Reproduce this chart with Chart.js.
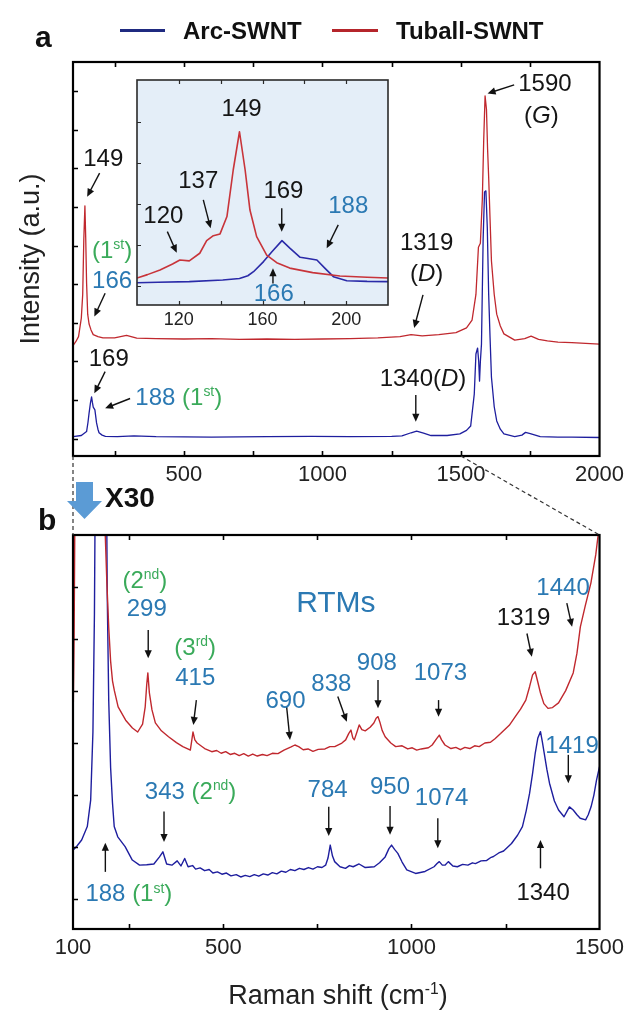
<!DOCTYPE html>
<html><head><meta charset="utf-8">
<script src="https://cdn.jsdelivr.net/npm/chart.js@4.4.1/dist/chart.umd.min.js"></script>
<style>
html,body{margin:0;padding:0;background:#fff;}
#wrap{position:relative;width:630px;height:1011px;overflow:hidden;font-family:"Liberation Sans",Arial,sans-serif;}
canvas{position:absolute;left:0;}
.t{position:absolute;white-space:nowrap;line-height:1;transform:translate(-50%,-50%);font-size:24px;color:#151515;}
.t.l{transform:translate(0,-50%);}
.k{color:#151515}.b{color:#2b79b3}.g{color:#3aaa5a}
sup{font-size:58%;vertical-align:0;position:relative;top:-0.62em;}
.lab{position:absolute;white-space:nowrap;line-height:1;}
</style></head>
<body><div id="wrap">
<canvas id="cA" width="630" height="500" style="top:0"></canvas>
<canvas id="cI" width="630" height="500" style="top:0"></canvas>
<canvas id="cB" width="630" height="511" style="top:500px"></canvas>
<svg id="ov" width="630" height="1011" style="position:absolute;left:0;top:0;pointer-events:none"></svg>
</div>
<script>
const FONT = '"Liberation Sans", Arial, sans-serif';
const RED = '#c0282e', BLUE = '#1e1e9e';

// ---------- Panel a: full spectra ----------
const A_RED_X = [100,110,120,130,135,139,143,146,149,153,158,165,173,190,208,250,293,330,400,500,600,700,800,900,1000,1100,1200,1280,1320,1360,1420,1482,1520,1540,1554,1563,1570,1577,1582,1587,1592,1596,1600,1605,1610,1620,1629,1642,1655,1694,1730,1753,1780,1812,1850,1900,1950,2000];
const A_RED_Y = [28,29,30.3,35,41,55,63.5,55,44,36,33.5,32,30.8,30.3,30,30,30.6,29.9,29.8,29.7,29.8,29.6,29.7,29.6,29.7,29.8,30,30.3,30.8,30.5,30.8,31.3,32.5,34.5,41,53,54,65,80,91.4,88,78,70.6,60,49.5,41,36,33,31,29.4,29.8,30.4,29.6,29.2,28.9,28.8,28.6,28.4];
const A_BLUE_X = [100,130,149,154,158,163,167,170,173,179,185,190,194,205,217,260,320,400,600,800,960,1100,1250,1287,1320,1340,1365,1392,1450,1496,1520,1535,1548,1554,1560,1564,1567,1570,1574,1580,1585,1590,1595,1600,1605,1610,1620,1629,1642,1655,1694,1720,1733,1750,1786,1850,1900,2000];
const A_BLUE_Y = [4.9,5.2,6.2,8.5,10.9,13.5,15,13.6,12.4,11.7,8.4,6.8,5.9,5.3,5,4.9,5.1,4.9,4.8,4.9,5,4.9,5,5.1,5.9,6.3,5.8,5.2,5.2,5.6,6.5,7.6,15.7,25.9,27.4,24,19,24,28.4,55,67,67.3,58,41,30,20,12.5,8.9,6.8,5.6,4.9,5.3,6,5.7,4.9,4.8,4.8,4.7];
const A_TICK_LABELS = [500,1000,1500,2000];
const A_TICK_MARKS = [250,500,750,1000,1250,1500,1750];
const A_YTICKS = [4.4,14.2,24,33.8,43.6,53.4,63.2,73,82.8,92.6];

// ---------- Inset: RBM region ----------
const I_RED_X = [100,105,111,117,120.5,125,130,133.3,136.5,139.7,143,146,149,151.7,154,157.2,162,166.8,173,184,197,210,220];
const I_RED_Y = [12,13.5,15.6,18.2,20,19.6,23,28.6,30.8,31.6,39.3,60,77,60,42.2,30.4,22.2,18.8,16.4,14.4,12.9,12.3,12];
const I_BLUE_X = [100,110,125,141,149,153,155.7,160.5,164.5,169.3,173.2,178,181,186,189.9,193.9,200.3,210,220];
const I_BLUE_Y = [9.9,10.1,10.4,11.1,11.8,13,14.8,19.3,23.7,28.6,25.2,21.2,20.8,20,16.3,12.6,10.8,10.5,10.4];
const I_TICK_LABELS = [120,160,200];
const I_TICK_MARKS = [120,140,160,180,200];
const I_YTICKS = [8.5,26.7,44.9,63.1,81.3];

// ---------- Panel b: x30 magnified ----------
const B_RED_X = [100,103,106,110,176,184,190,195,200,205,210,220,240,258,272,285,292,296,299,303,310,319,335,354,375,392,408,412,416,419,424,430,450,469,482,494,506,518,530,542,554,566,578,590,604,616,630,645,661,680,690,700,712,725,738,752,770,783,796,815,825,833,839,844,848,855,861,868,877,890,900,906,911,916,922,930,945,958,975,990,1002,1014,1026,1045,1055,1066,1074,1080,1089,1105,1118,1130,1142,1155,1168,1180,1195,1210,1222,1237,1260,1276,1290,1304,1314,1322,1329,1335,1343,1352,1363,1375,1391,1410,1430,1440,1449,1462,1477,1490,1497,1500];
const B_RED_Y = [50,75,120,150,150,105,88,76.6,68,63,60.5,56.4,53,51,50,52,56.4,62,65,60,55.6,52.3,50.3,48.8,47.3,46.3,45.6,45.4,48,50,48,47.2,45.8,45,45.3,44.6,45,44.3,44.6,44,44.5,43.9,44.4,43.9,44.3,44,44.6,44.5,45.4,46.2,46.7,46.3,45.5,45.7,45.1,45.6,45.7,46.3,46.3,47.2,48,49.6,50.5,48.5,48,50,51.8,50.6,50.3,51.2,52.3,53.5,53.9,52.5,50.4,48.8,47.2,46.3,46.5,45.7,46,45.4,45.7,46,46.7,48.2,49.2,48,46.7,45.8,46.1,45.5,46.1,45.8,46.5,46.3,47.2,47.4,48.3,49.6,51.7,53.9,55.8,58.1,61.5,64.5,65.3,63,59.9,57.2,56,56.2,57.4,60.5,65,70,76.7,82,87.8,95,100.5,103];
const B_BLUE_X = [100,110,123,138,147,153,157,161,186,188,191,195,200,205,209.6,219,238.6,257.7,277,296,315,330,339,349,363,377,387,397,406,418,426,438,450,462,472,484,496,508,520,534,546,558,570,582,594,606,618,630,642,654,666,678,690,702,714,726,738,750,762,771.7,778,784,790,795.7,810,824.5,835,845,860.7,877,901,915,930,940,947,955,963.7,975,987.5,1011,1036,1060,1068,1074,1082,1089,1098,1110,1122,1136,1150,1162,1170,1185,1200,1212,1218,1232,1245,1266,1282,1295,1305,1314,1322,1329,1336,1343,1348,1353,1360,1367,1380,1391,1405.6,1413,1420,1430,1440,1448.6,1463,1470,1477.5,1485,1492,1500];
const B_BLUE_Y = [20,21,22.6,26,32.7,50,80,140,140,130,85,58,41,32,26,23.4,20.9,17.5,16.2,16.3,16.5,18.3,19.6,16.5,16.2,17.3,16,17.9,15.8,16.1,15.2,15.5,14.8,15.1,14.2,14.5,13.9,14.2,13.5,13.8,13.2,13.6,13.3,13.8,13.4,14,13.7,14.3,14,14.7,14.4,15.1,14.8,15.4,15.1,15.6,15.2,15.8,15.6,16.2,18,21.3,18.5,17.1,15.8,15.4,16.1,15.8,16.5,15.6,15.8,16.8,18.3,20.4,21.3,20.2,19.2,17,15,14.1,14.6,15.8,16.6,17.1,16.2,16.2,17.1,16,15.8,16.4,16.2,16.8,16.6,17.3,17.4,18.2,18.4,19.3,19.8,21.7,23.8,26,30,34.4,39.5,44.6,48.5,50.1,47.5,44.6,40.5,37,32.5,30.2,28.5,29.8,31,30.2,29,28.1,27.7,29,31,34,37.8,41.2];
const B_TICK_LABELS = [100,500,1000,1500];
const B_TICK_MARKS = [250,500,750,1000,1250];
const B_YTICKS = [7.6,20.8,34,47.2,60.4,73.6,86.8];

// ---------- Annotations (data coordinates) ----------
const A_TEXT = [
  ['149','k',209,75.6],['(1<sup>st</sup>)','g',241,52.3],['166','b',241,44.7],['169','k',229,24.9],
  ['188 <span class="g">(1<sup>st</sup>)</span>','b',325,15.1,'l'],
  ['1319','k',1376,54.4],['(<i>D</i>)','k',1376,46.4],['1340(<i>D</i>)','k',1363,19.8],
  ['1590','k',1803,94.7],['(<i>G</i>)','k',1790,86.5]
];
const A_ARROWS = [[196,71.8,151,65.8],[216,41.3,177,35.4],[216,21.4,177,15.9],[306,14.6,216,12.1],[1363,40.9,1331,32.5],[1337,15.5,1337,8.7],[1692,94.2,1596,92]];
const I_TEXT = [['149','k',150,87.4],['137','k',129.3,55.6],['120','k',112.6,40],['169','k',170,51.1],['188','b',201,44.4],['166','b',165.4,5.2]];
const I_ARROWS = [[131.7,46.7,135.2,34.1],[114.5,32.6,119,23.2],[169.2,43,169.2,32.6],[196.2,35.6,190.7,25.2],[165,9.6,165,16.3]];
const B_TEXT = [
  ['(2<sup>nd</sup>)','g',291,88.6],['299','b',296,81.4],['(3<sup>rd</sup>)','g',425,71.6],['415','b',425,64],
  ['RTMs','b',799,83.1,'c',30],['690','b',665,58.1],['838','b',787,62.4],['908','b',908,67.8],['1073','b',1077,65.3],
  ['1319','k',1298,79.3],['1440','b',1403,86.9],
  ['343 <span class="g">(2<sup>nd</sup>)</span>','b',291,35.1,'l'],['784','b',777,35.5],['950','b',943,36.3],['1074','b',1080,33.4],
  ['1419','b',1427,46.7],['188 <span class="g">(1<sup>st</sup>)</span>','b',133,9.1,'l'],['1340','k',1350,9.5]
];
const B_ARROWS = [[300,75.9,300,68.7],[428,58.1,420,51.8],[668,56.4,677,48],[804,59,828,52.6],[911,63.2,911,56],[1072,58.1,1072,53.9],[1307,75,1320,69.1],[1413,82.7,1427,76.7],[342,29.8,342,22.1],[780,31,780,23.6],[943,31.2,943,23.9],[1070,28.1,1070,20.5],[1417,44.2,1417,37],[186,14.5,186,21.9],[1343,15.4,1343,22.6]];

const LEGEND = [['Arc-SWNT','#1f2a80'],['Tuball-SWNT','#b5252b']];

function pts(xs, ys){ return xs.map((x,i)=>({x:x,y:ys[i]})); }

function drawArrow(ctx,x1,y1,x2,y2){
  const a=Math.atan2(y2-y1,x2-x1), hl=8, hw=3.6;
  ctx.beginPath(); ctx.moveTo(x1,y1); ctx.lineTo(x2-Math.cos(a)*hl*0.7,y2-Math.sin(a)*hl*0.7); ctx.stroke();
  ctx.beginPath(); ctx.moveTo(x2,y2);
  ctx.lineTo(x2-hl*Math.cos(a)+hw*Math.sin(a), y2-hl*Math.sin(a)-hw*Math.cos(a));
  ctx.lineTo(x2-hl*Math.cos(a)-hw*Math.sin(a), y2-hl*Math.sin(a)+hw*Math.cos(a));
  ctx.closePath(); ctx.fill();
}

function framePlugin(o){
  return {
    id:'frame',
    beforeDatasetsDraw(chart){
      if(!o.fill) return;
      const {ctx,chartArea:a}=chart; ctx.save(); ctx.fillStyle=o.fill;
      ctx.fillRect(a.left,a.top,a.right-a.left,a.bottom-a.top); ctx.restore();
    },
    afterDatasetsDraw(chart){
      const {ctx,chartArea:a,scales:{x,y}}=chart;
      ctx.save();
      ctx.strokeStyle=o.color; ctx.lineWidth=o.lw;
      ctx.strokeRect(a.left,a.top,a.right-a.left,a.bottom-a.top);
      ctx.lineWidth=o.tw; ctx.beginPath();
      o.xt.forEach(v=>{const p=Math.round(x.getPixelForValue(v))+0.5;
        ctx.moveTo(p,a.bottom); ctx.lineTo(p,a.bottom-o.tl);
        ctx.moveTo(p,a.top); ctx.lineTo(p,a.top+o.tl);});
      o.yt.forEach(v=>{const p=Math.round(y.getPixelForValue(v))+0.5;
        ctx.moveTo(a.left,p); ctx.lineTo(a.left+o.tl,p);});
      ctx.stroke();
      ctx.strokeStyle='#111'; ctx.fillStyle='#111'; ctx.lineWidth=1.4;
      o.arrows.forEach(r=>drawArrow(ctx,x.getPixelForValue(r[0]),y.getPixelForValue(r[1]),x.getPixelForValue(r[2]),y.getPixelForValue(r[3])));
      ctx.restore();
    }
  };
}

function makeChart(id, series, xr, labels, pad, xh, fsz, lpad, frame){
  return new Chart(document.getElementById(id), {
    type:'line',
    data:{datasets:series.map(s=>({data:pts(s[0],s[1]),borderColor:s[2],borderWidth:s[3],pointRadius:0,tension:0,fill:false,borderJoinStyle:'round'}))},
    options:{
      responsive:false, animation:false, devicePixelRatio:1, events:[],
      layout:{padding:pad},
      plugins:{legend:{display:false},tooltip:{enabled:false}},
      scales:{
        x:{type:'linear',min:xr[0],max:xr[1],
           afterBuildTicks:s=>{s.ticks=labels.map(v=>({value:v}));},
           afterFit:s=>{s.height=xh;},
           ticks:{autoSkip:false,maxRotation:0,padding:lpad,color:'#222',font:{family:FONT,size:fsz},callback:v=>String(v)},
           grid:{display:false,drawTicks:false},border:{display:false}},
        y:{type:'linear',display:false,min:0,max:100}
      }
    },
    plugins:[framePlugin(frame)]
  });
}

const chA = makeChart('cA', [[A_RED_X,A_RED_Y,RED,1.3],[A_BLUE_X,A_BLUE_Y,BLUE,1.3]], [100,2000], A_TICK_LABELS,
  {left:73,right:26,top:62,bottom:0}, 44, 22, 6,
  {color:'#000',lw:2.2,tw:1.6,tl:5,xt:A_TICK_MARKS,yt:A_YTICKS,arrows:A_ARROWS});
const chI = makeChart('cI', [[I_RED_X,I_RED_Y,'#c8343a',1.6],[I_BLUE_X,I_BLUE_Y,'#2a2aa8',1.6]], [100,220], I_TICK_LABELS,
  {left:137,right:242,top:80,bottom:165}, 30, 18, 4,
  {color:'#2a2a2a',lw:1.6,tw:1.2,tl:4,xt:I_TICK_MARKS,yt:I_YTICKS,arrows:I_ARROWS,fill:'#e4eef8'});
const chB = makeChart('cB', [[B_RED_X,B_RED_Y,RED,1.4],[B_BLUE_X,B_BLUE_Y,BLUE,1.4]], [100,1500], B_TICK_LABELS,
  {left:73,right:26,top:35,bottom:32}, 50, 22, 6,
  {color:'#000',lw:2.2,tw:1.6,tl:5,xt:B_TICK_MARKS,yt:B_YTICKS,arrows:B_ARROWS});

const wrap=document.getElementById('wrap');
function addDiv(html, cls, x, y, size, weight, style){
  const d=document.createElement('div'); d.className=cls; d.innerHTML=html;
  d.style.left=x+'px'; d.style.top=y+'px';
  if(size) d.style.fontSize=size+'px';
  if(weight) d.style.fontWeight=weight;
  if(style) Object.assign(d.style,style);
  wrap.appendChild(d); return d;
}
function placeText(chart, list, top){
  list.forEach(r=>{
    const px=chart.scales.x.getPixelForValue(r[2]), py=chart.scales.y.getPixelForValue(r[3])+top;
    addDiv(r[0],'t '+r[1]+(r[4]==='l'?' l':''),px,py,r[5]||24);
  });
}
placeText(chA,A_TEXT,0); placeText(chI,I_TEXT,0); placeText(chB,B_TEXT,500);

// legend
function legLine(x,y,w,c){const d=document.createElement('div');Object.assign(d.style,{position:'absolute',left:x+'px',top:(y-1)+'px',width:w+'px',height:'2.5px',background:c});wrap.appendChild(d);}
legLine(120,30,45,LEGEND[0][1]); addDiv(LEGEND[0][0],'lab',183,19,24,'bold',{color:'#111'});
legLine(332,30,46,LEGEND[1][1]); addDiv(LEGEND[1][0],'lab',396,19,24,'bold',{color:'#111'});
// panel letters
addDiv('a','lab',35,22,30,'bold',{color:'#111'});
addDiv('b','lab',38,505,30,'bold',{color:'#111'});
addDiv('X30','lab',105,484,28,'bold',{color:'#111'});
// axis titles
addDiv('Intensity (a.u.)','lab',30,259,27,null,{color:'#222',transform:'translate(-50%,-50%) rotate(-90deg)'});
addDiv('Raman shift (cm<sup>-1</sup>)','lab',338,995,27,null,{color:'#222',transform:'translate(-50%,-50%)'});

// connectors & x30 arrow
const aA=chA.chartArea, aB=chB.chartArea;
const x1500=chA.scales.x.getPixelForValue(1500);
const svg=document.getElementById('ov');
svg.innerHTML =
  '<line x1="'+aA.left+'" y1="'+aA.bottom+'" x2="'+aB.left+'" y2="'+(500+aB.top)+'" stroke="#333" stroke-width="1.2" stroke-dasharray="4,3"/>'+
  '<line x1="'+x1500+'" y1="'+aA.bottom+'" x2="'+aB.right+'" y2="'+(500+aB.top)+'" stroke="#333" stroke-width="1.2" stroke-dasharray="4,3"/>'+
  '<path d="M76,482 L93,482 L93,501 L102,501 L84.5,519 L67,501 L76,501 Z" fill="#5b9bd5"/>';
</script>
</body></html>
